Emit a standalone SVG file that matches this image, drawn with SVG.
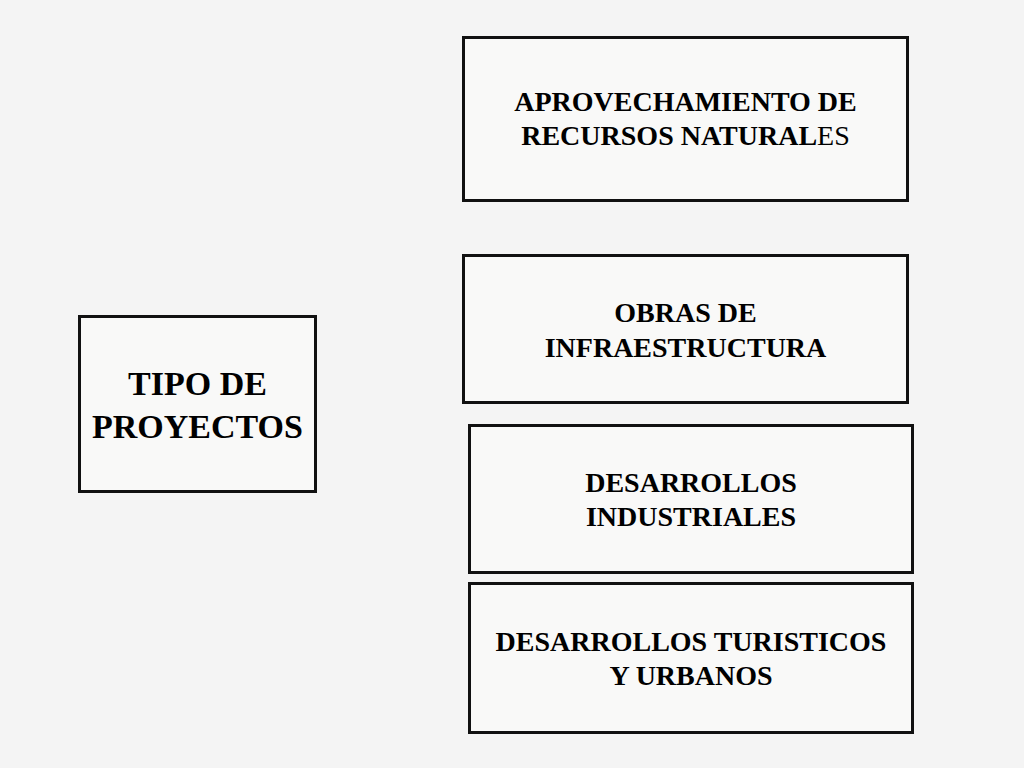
<svg xmlns="http://www.w3.org/2000/svg" width="1024" height="768" viewBox="0 0 1024 768">
<style>
.box{fill:#f9f9f8;stroke:#111;stroke-width:3}
.t{font-family:"Liberation Serif","Times New Roman",serif;font-weight:bold;fill:#000;text-anchor:middle;font-size:28px}
.big{font-size:34px}
</style>
<rect width="1024" height="768" fill="#f4f4f4"/>
<g id="connectors"></g>
<g id="tipo">
<rect class="box" x="79.500" y="316.500" width="236" height="175"/>
<text class="t big" x="197.500" y="395">TIPO DE</text>
<text class="t big" x="197.500" y="438">PROYECTOS</text>
</g>
<g id="aprovechamiento">
<rect class="box" x="463.500" y="37.500" width="444" height="163"/>
<text class="t" x="685.500" y="111">APROVECHAMIENTO DE</text>
<text class="t" x="685.500" y="145">RECURSOS NATURAL<tspan font-weight="normal">ES</tspan></text>
</g>
<g id="obras">
<rect class="box" x="463.500" y="255.500" width="444" height="147"/>
<text class="t" x="685.500" y="322">OBRAS DE</text>
<text class="t" x="685.500" y="357">INFRAESTRUCTURA</text>
</g>
<g id="industriales">
<rect class="box" x="469.500" y="425.500" width="443" height="147"/>
<text class="t" x="691" y="492">DESARROLLOS</text>
<text class="t" x="691" y="526">INDUSTRIALES</text>
</g>
<g id="turisticos">
<rect class="box" x="469.500" y="583.500" width="443" height="149"/>
<text class="t" x="691" y="651">DESARROLLOS TURISTICOS</text>
<text class="t" x="691" y="685">Y URBANOS</text>
</g>
</svg>
